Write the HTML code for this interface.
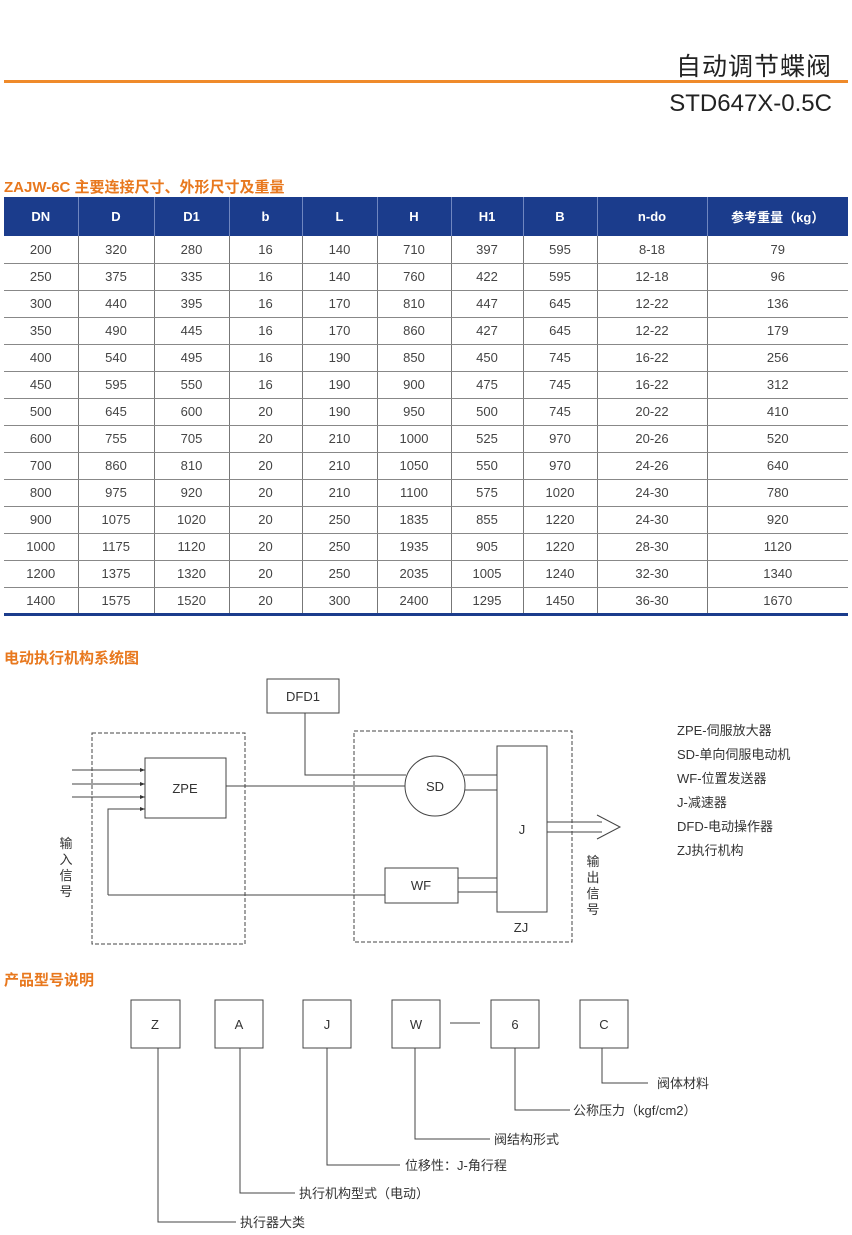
<!DOCTYPE html>
<html><head><meta charset="utf-8"><style>
*{margin:0;padding:0;box-sizing:border-box}
body{width:852px;height:1235px;background:#fff;position:relative;font-family:"Liberation Sans","Noto Sans CJK SC",sans-serif;color:#333;overflow:hidden}
.a{position:absolute;white-space:nowrap}
.h{color:#e8781e;font-weight:bold;font-size:15px}
table{position:absolute;left:4px;top:197px;width:844px;border-collapse:collapse;font-size:13px;table-layout:fixed}
th{background:#1b3c8c;color:#fff;height:39px;font-weight:bold;font-size:13px;border-left:1px solid #6f86c0}
th:first-child{border-left:none}
td{height:27px;text-align:center;color:#444;border-bottom:1.5px solid #888;border-left:1px solid #777}
td:first-child{border-left:none}
tr:last-child td{border-bottom:3px solid #1b3c8c}
svg{position:absolute;left:0;top:0}
svg text{font-family:"Liberation Sans","Noto Sans CJK SC",sans-serif;fill:#333}
</style></head><body>
<div class="a" style="right:20px;top:47px;font-size:25px;color:#222;letter-spacing:1px">自动调节蝶阀</div>
<div style="position:absolute;left:4px;top:80px;width:844px;height:3px;background:#ef8a2a"></div>
<div class="a" style="right:20px;top:90px;font-size:24px;color:#222">STD647X-0.5C</div>
<div class="a h" style="left:4px;top:176px">ZAJW-6C 主要连接尺寸、外形尺寸及重量</div>
<table>
<colgroup><col style="width:74px"><col style="width:76px"><col style="width:75px"><col style="width:73px"><col style="width:75px"><col style="width:74px"><col style="width:72px"><col style="width:74px"><col style="width:110px"><col style="width:141px"></colgroup>
<tr><th>DN</th><th>D</th><th>D1</th><th>b</th><th>L</th><th>H</th><th>H1</th><th>B</th><th>n-do</th><th>参考重量（kg）</th></tr>
<tr><td>200</td><td>320</td><td>280</td><td>16</td><td>140</td><td>710</td><td>397</td><td>595</td><td>8-18</td><td>79</td></tr>
<tr><td>250</td><td>375</td><td>335</td><td>16</td><td>140</td><td>760</td><td>422</td><td>595</td><td>12-18</td><td>96</td></tr>
<tr><td>300</td><td>440</td><td>395</td><td>16</td><td>170</td><td>810</td><td>447</td><td>645</td><td>12-22</td><td>136</td></tr>
<tr><td>350</td><td>490</td><td>445</td><td>16</td><td>170</td><td>860</td><td>427</td><td>645</td><td>12-22</td><td>179</td></tr>
<tr><td>400</td><td>540</td><td>495</td><td>16</td><td>190</td><td>850</td><td>450</td><td>745</td><td>16-22</td><td>256</td></tr>
<tr><td>450</td><td>595</td><td>550</td><td>16</td><td>190</td><td>900</td><td>475</td><td>745</td><td>16-22</td><td>312</td></tr>
<tr><td>500</td><td>645</td><td>600</td><td>20</td><td>190</td><td>950</td><td>500</td><td>745</td><td>20-22</td><td>410</td></tr>
<tr><td>600</td><td>755</td><td>705</td><td>20</td><td>210</td><td>1000</td><td>525</td><td>970</td><td>20-26</td><td>520</td></tr>
<tr><td>700</td><td>860</td><td>810</td><td>20</td><td>210</td><td>1050</td><td>550</td><td>970</td><td>24-26</td><td>640</td></tr>
<tr><td>800</td><td>975</td><td>920</td><td>20</td><td>210</td><td>1100</td><td>575</td><td>1020</td><td>24-30</td><td>780</td></tr>
<tr><td>900</td><td>1075</td><td>1020</td><td>20</td><td>250</td><td>1835</td><td>855</td><td>1220</td><td>24-30</td><td>920</td></tr>
<tr><td>1000</td><td>1175</td><td>1120</td><td>20</td><td>250</td><td>1935</td><td>905</td><td>1220</td><td>28-30</td><td>1120</td></tr>
<tr><td>1200</td><td>1375</td><td>1320</td><td>20</td><td>250</td><td>2035</td><td>1005</td><td>1240</td><td>32-30</td><td>1340</td></tr>
<tr><td>1400</td><td>1575</td><td>1520</td><td>20</td><td>300</td><td>2400</td><td>1295</td><td>1450</td><td>36-30</td><td>1670</td></tr>
</table>
<div class="a h" style="left:4px;top:647px">电动执行机构系统图</div>
<div class="a h" style="left:4px;top:969px">产品型号说明</div>
<svg width="852" height="1235" viewBox="0 0 852 1235">
<defs><marker id="m" markerWidth="6" markerHeight="6" refX="5" refY="3" orient="auto"><path d="M0,1 L5,3 L0,5 z" fill="#333"/></marker></defs>
<g fill="none" stroke="#444" stroke-width="1">
<rect x="92" y="733" width="153" height="211" stroke-dasharray="4,2"/>
<rect x="354" y="731" width="218" height="211" stroke-dasharray="4,2"/>
<rect x="267" y="679" width="72" height="34"/>
<rect x="145" y="758" width="81" height="60"/>
<circle cx="435" cy="786" r="30"/>
<rect x="497" y="746" width="50" height="166"/>
<rect x="385" y="868" width="73" height="35"/>
<path d="M72,770H145" marker-end="url(#m)"/>
<path d="M72,784H145" marker-end="url(#m)"/>
<path d="M72,797H145" marker-end="url(#m)"/>
<path d="M108,895V809H145" marker-end="url(#m)"/>
<path d="M108,895H385"/>
<path d="M305,713V775H406"/>
<path d="M226,786H405"/>
<path d="M464,775H497M465,790H497"/>
<path d="M458,878H497M458,892H497"/>
<path d="M547,822H602M547,832H602M597,815L620,827L597,839"/>
<rect x="131" y="1000" width="49" height="48"/>
<rect x="215" y="1000" width="48" height="48"/>
<rect x="303" y="1000" width="48" height="48"/>
<rect x="392" y="1000" width="48" height="48"/>
<rect x="491" y="1000" width="48" height="48"/>
<rect x="580" y="1000" width="48" height="48"/>
<path d="M450,1023H480"/>
<path d="M602,1048V1083H648M515,1048V1110H570M415,1048V1139H490M327,1048V1165H400M240,1048V1193H295M158,1048V1222H236"/>
</g>
<g font-size="13" text-anchor="middle">
<text x="303" y="701">DFD1</text>
<text x="185" y="793">ZPE</text>
<text x="435" y="791">SD</text>
<text x="522" y="834">J</text>
<text x="421" y="890">WF</text>
<text x="521" y="932">ZJ</text>
<text x="155" y="1029">Z</text>
<text x="239" y="1029">A</text>
<text x="327" y="1029">J</text>
<text x="416" y="1029">W</text>
<text x="515" y="1029">6</text>
<text x="604" y="1029">C</text>
<text x="66" y="848">输</text><text x="66" y="864">入</text><text x="66" y="880">信</text><text x="66" y="896">号</text>
<text x="593" y="866">输</text><text x="593" y="882">出</text><text x="593" y="898">信</text><text x="593" y="914">号</text>
</g>
<g font-size="13">
<text x="677" y="735">ZPE-伺服放大器</text>
<text x="677" y="759">SD-单向伺服电动机</text>
<text x="677" y="783">WF-位置发送器</text>
<text x="677" y="807">J-减速器</text>
<text x="677" y="831">DFD-电动操作器</text>
<text x="677" y="855">ZJ执行机构</text>
<text x="657" y="1088">阀体材料</text>
<text x="573" y="1115">公称压力（kgf/cm2）</text>
<text x="494" y="1144">阀结构形式</text>
<text x="405" y="1170">位移性：J-角行程</text>
<text x="299" y="1198">执行机构型式（电动）</text>
<text x="240" y="1227">执行器大类</text>
</g>
</svg>
</body></html>
